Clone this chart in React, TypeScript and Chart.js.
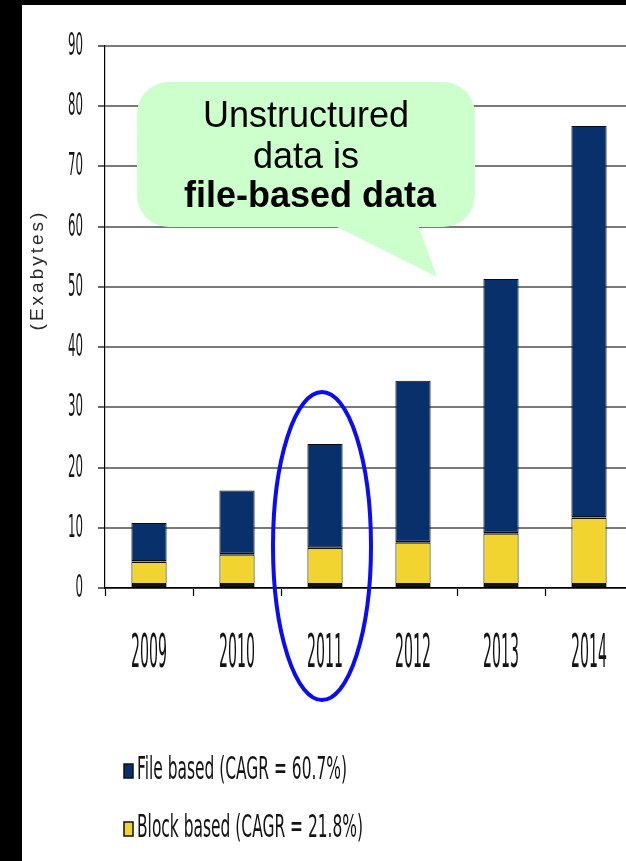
import React, { useEffect, useRef } from 'react';
import { Chart, registerables } from 'chart.js';

Chart.register(...registerables);

// ---- data ----
const years = ['2009', '2010', '2011', '2012', '2013', '2014'];
const blockBased = [4.4, 5.6, 6.7, 7.6, 9.1, 11.7];
const fileBased = [6.4, 10.6, 17.2, 26.8, 42.2, 65.0];
const yMin = 0;
const yMax = 90;
const yStep = 10;
const fileLabel = 'File based (CAGR = 60.7%)';
const blockLabel = 'Block based (CAGR = 21.8%)';
const axisTitle = '(Exabytes)';
const calloutLines = ['Unstructured', 'data is', 'file-based data'];

// ---- styles ----
const NAVY = '#08306a';
const YELLOW = '#f2d430';
const GRID = '#7a7a7a';
const TEXT = '#141414';
const NARROW = '"Liberation Sans Narrow", "DejaVu Sans Condensed", "Liberation Sans", sans-serif';
const SANS = '"Liberation Sans", Arial, Helvetica, sans-serif';

function fitScale(ctx: CanvasRenderingContext2D, font: string, refW: string, w: number, refH: string, h: number) {
  ctx.save();
  ctx.font = font;
  const mw = ctx.measureText(refW).width;
  const mh = ctx.measureText(refH).actualBoundingBoxAscent;
  ctx.restore();
  return { sx: w / mw, sy: h / mh };
}

function stretchText(
  ctx: CanvasRenderingContext2D,
  text: string,
  x: number,
  baseline: number,
  font: string,
  sx: number,
  sy: number,
  align: CanvasTextAlign
) {
  ctx.save();
  ctx.font = font;
  ctx.textAlign = align;
  ctx.textBaseline = 'alphabetic';
  ctx.fillStyle = TEXT;
  ctx.translate(x, baseline);
  ctx.scale(sx, sy);
  ctx.fillText(text, 0, 0);
  ctx.restore();
}

const backgroundPlugin = {
  id: 'bgFrame',
  beforeDraw(chart: any) {
    const ctx = chart.ctx as CanvasRenderingContext2D;
    const w = chart.width;
    const h = chart.height;
    ctx.save();
    ctx.fillStyle = '#ffffff';
    ctx.fillRect(0, 0, w, h);
    ctx.fillStyle = '#000000';
    ctx.fillRect(0, 0, 22, h);
    ctx.fillRect(0, 0, w, 5);
    ctx.restore();
  },
};

const decorPlugin = {
  id: 'decor',
  afterDraw(chart: any) {
    const ctx = chart.ctx as CanvasRenderingContext2D;
    const xs = chart.scales.x;
    const ys = chart.scales.y;

    // y tick labels
    const yFont = '20px ' + NARROW;
    const yf = fitScale(ctx, yFont, '90', 15, '0', 22);
    ys.ticks.forEach((t: any) => {
      const py = ys.getPixelForValue(t.value);
      stretchText(ctx, String(t.value), 83, py - 2 + 11, yFont, yf.sx, yf.sy, 'right');
    });

    // x tick labels
    const xFont = '20px ' + NARROW;
    const xf = fitScale(ctx, xFont, '2009', 36, '0', 32);
    chart.data.labels.forEach((lab: string, i: number) => {
      const px = xs.getPixelForValue(i);
      stretchText(ctx, lab, px, 667, xFont, xf.sx, xf.sy, 'center');
    });

    // y axis title
    ctx.save();
    ctx.translate(38, 270);
    ctx.rotate(-Math.PI / 2);
    ctx.font = '19px ' + SANS;
    (ctx as any).letterSpacing = '3px';
    ctx.textAlign = 'center';
    ctx.textBaseline = 'middle';
    ctx.fillStyle = '#2a2a2a';
    ctx.fillText(axisTitle, 0, 0);
    ctx.restore();

    // legend (file first, then block)
    const ds = chart.data.datasets;
    const order = [ds[1], ds[0]];
    const lFont = '20px ' + NARROW;
    const lf = fitScale(ctx, lFont, fileLabel, 210, 'F', 22);
    const baselines = [779, 837];
    order.forEach((d: any, i: number) => {
      const b = baselines[i];
      ctx.save();
      ctx.fillStyle = d.backgroundColor;
      ctx.fillRect(124, b - 15, 9, 14);
      ctx.strokeStyle = '#111111';
      ctx.lineWidth = 1.5;
      ctx.strokeRect(124, b - 15, 9, 14);
      ctx.restore();
      stretchText(ctx, d.label, 137, b, lFont, lf.sx, lf.sy, 'left');
    });

    // callout bubble
    ctx.save();
    ctx.fillStyle = '#ccffcc';
    ctx.beginPath();
    (ctx as any).roundRect(137, 82, 338, 145, 32);
    ctx.fill();
    ctx.beginPath();
    ctx.moveTo(333, 225);
    ctx.lineTo(437, 277);
    ctx.lineTo(418, 225);
    ctx.closePath();
    ctx.fill();
    ctx.fillStyle = '#000000';
    ctx.textAlign = 'center';
    ctx.textBaseline = 'alphabetic';
    ctx.font = '36px ' + SANS;
    ctx.fillText(calloutLines[0], 306, 127);
    ctx.fillText(calloutLines[1], 306, 168);
    ctx.font = 'bold 36px ' + SANS;
    ctx.fillText(calloutLines[2], 310, 207);
    ctx.restore();

    // highlight ellipse around 2011
    const cx = xs.getPixelForValue(2) - 3;
    ctx.save();
    ctx.strokeStyle = '#0b0bf5';
    ctx.lineWidth = 4;
    ctx.beginPath();
    ctx.ellipse(cx, 546, 49, 154, 0, 0, Math.PI * 2);
    ctx.stroke();
    ctx.restore();
  },
};

export default function App() {
  const ref = useRef<HTMLCanvasElement | null>(null);

  useEffect(() => {
    if (!ref.current) return;
    const chart = new Chart(ref.current, {
      type: 'bar',
      data: {
        labels: years,
        datasets: [
          {
            label: blockLabel,
            data: blockBased,
            backgroundColor: YELLOW,
            borderColor: '#111111',
            borderWidth: { top: 1.5, left: 1, right: 1, bottom: 4 },
            borderSkipped: false,
            categoryPercentage: 0.8,
            barPercentage: 0.5,
          },
          {
            label: fileLabel,
            data: fileBased,
            backgroundColor: NAVY,
            borderColor: '#0a0a14',
            borderWidth: { top: 1, left: 1, right: 1, bottom: 1.5 },
            borderSkipped: false,
            categoryPercentage: 0.8,
            barPercentage: 0.5,
          },
        ],
      },
      options: {
        responsive: false,
        devicePixelRatio: 1,
        animation: false,
        layout: { padding: { left: 22, top: 46, right: 0, bottom: 0 } },
        plugins: {
          legend: { display: false },
          tooltip: { enabled: false },
          title: { display: false },
        },
        scales: {
          x: {
            stacked: true,
            grid: {
              display: true,
              drawOnChartArea: false,
              offset: true,
              tickLength: 8,
              tickColor: '#000000',
              tickWidth: 1.2,
            },
            border: { display: true, color: '#000000', width: 1.5 },
            ticks: { display: false },
            afterFit: (s: any) => {
              s.height = 273;
            },
          },
          y: {
            stacked: true,
            min: yMin,
            max: yMax,
            ticks: { display: false, stepSize: yStep },
            grid: {
              color: GRID,
              lineWidth: 2,
              tickLength: 7,
              tickColor: '#000000',
              tickWidth: 1.2,
            },
            border: { display: true, color: '#000000', width: 1.2 },
            afterFit: (s: any) => {
              s.width = 83;
            },
          },
        },
      },
      plugins: [backgroundPlugin, decorPlugin],
    } as any);
    return () => chart.destroy();
  }, []);

  return (
    <div
      style={{
        position: 'fixed',
        left: 0,
        top: 0,
        width: 626,
        height: 861,
        overflow: 'hidden',
        background: '#ffffff',
      }}
    >
      <canvas ref={ref} width={633} height={861} style={{ display: 'block', width: 633, height: 861 }} />
    </div>
  );
}
